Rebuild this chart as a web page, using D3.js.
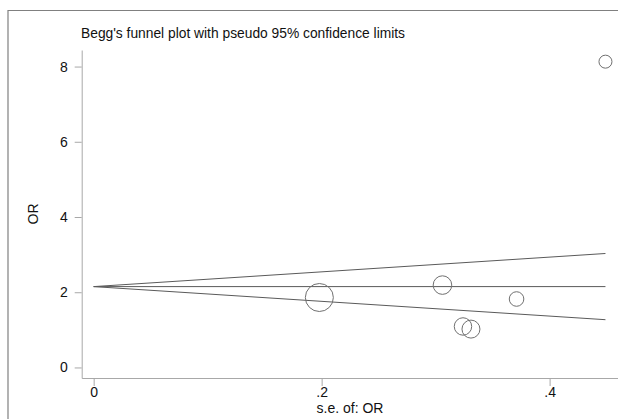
<!DOCTYPE html>
<html>
<head>
<meta charset="utf-8">
<script src="https://cdn.jsdelivr.net/npm/d3@7"></script>
<style>
  body { margin: 0; background: #fff; }
  svg { display: block; font-family: Arial, "Liberation Sans", sans-serif; }
</style>
</head>
<body>
<div id="chart"></div>
<script>
// studies (s.e. of OR, OR, weight)
var seValues = [0.198, 0.306, 0.324, 0.331, 0.371, 0.449];
var orValues = [1.86, 2.19, 1.09, 1.02, 1.82, 8.13];
var weights = [25.5, 11.2, 9.9, 10.5, 6.9, 5.5];

// pseudo 95% limits
var funnelSe = [0, 0.449];
var pooled = [2.15, 2.15];
var upperLimit = [2.15, 3.03];
var lowerLimit = [2.15, 1.27];

var xTicks = [0, 0.2, 0.4];
var yTicks = [0, 2, 4, 6, 8];

var width = 618, height = 419;

var svg = d3.select('#chart').append('svg')
  .attr('width', width)
  .attr('height', height);

// outer frame (cropped)
svg.append('path')
  .attr('d', 'M8,419V10.5H618')
  .attr('fill', 'none')
  .attr('stroke', '#808080')
  .attr('stroke-width', 1.2);

var x = d3.scaleLinear().domain([-0.0105, 0.46]).range([81.7, 618]);
var y = d3.scaleLinear().domain([-0.28, 8.44]).range([378, 50]);
var r = d3.scaleSqrt().domain([0, 25.5]).range([0, 14]);

var fmt = function (d) { return d === 0 ? '0' : d3.format('.1f')(d).replace(/^0/, ''); };

var xAxis = svg.append('g')
  .attr('transform', 'translate(0,378)')
  .call(d3.axisBottom(x).tickValues(xTicks).tickFormat(fmt).tickSizeInner(8).tickSizeOuter(0).tickPadding(1.5));

var yAxis = svg.append('g')
  .attr('transform', 'translate(81.7,0)')
  .call(d3.axisLeft(y).tickValues(yTicks).tickSizeInner(7).tickSizeOuter(0).tickPadding(7));

[xAxis, yAxis].forEach(function (g) {
  g.selectAll('path, line').attr('stroke', '#a8a8a8');
  g.selectAll('text').attr('fill', '#111').style('font-size', '14px').style('font-family', 'Arial, "Liberation Sans", sans-serif');
});

// funnel lines
var line = d3.line()
  .x(function (d) { return x(d[0]); })
  .y(function (d) { return y(d[1]); });

[pooled, upperLimit, lowerLimit].forEach(function (vals) {
  svg.append('path')
    .datum(d3.zip(funnelSe, vals))
    .attr('d', line)
    .attr('fill', 'none')
    .attr('stroke', '#5a5a5a')
    .attr('stroke-width', 1);
});

// study markers
var studies = seValues.map(function (s, i) {
  return { se: s, or: orValues[i], w: weights[i] };
});

svg.selectAll('.study')
  .data(studies)
  .enter().append('circle')
  .attr('class', 'study')
  .attr('cx', function (d) { return x(d.se); })
  .attr('cy', function (d) { return y(d.or); })
  .attr('r', function (d) { return r(d.w); })
  .attr('fill', 'none')
  .attr('stroke', '#707070')
  .attr('stroke-width', 1);

// titles
svg.append('text')
  .attr('x', 81)
  .attr('y', 38)
  .attr('fill', '#111')
  .style('font-size', '13.8px')
  .text("Begg's funnel plot with pseudo 95% confidence limits");

svg.append('text')
  .attr('x', 350)
  .attr('y', 413)
  .attr('text-anchor', 'middle')
  .attr('fill', '#111')
  .style('font-size', '14px')
  .text('s.e. of: OR');

svg.append('text')
  .attr('transform', 'translate(38,214) rotate(-90)')
  .attr('text-anchor', 'middle')
  .attr('fill', '#111')
  .style('font-size', '14px')
  .text('OR');
</script>
</body>
</html>
